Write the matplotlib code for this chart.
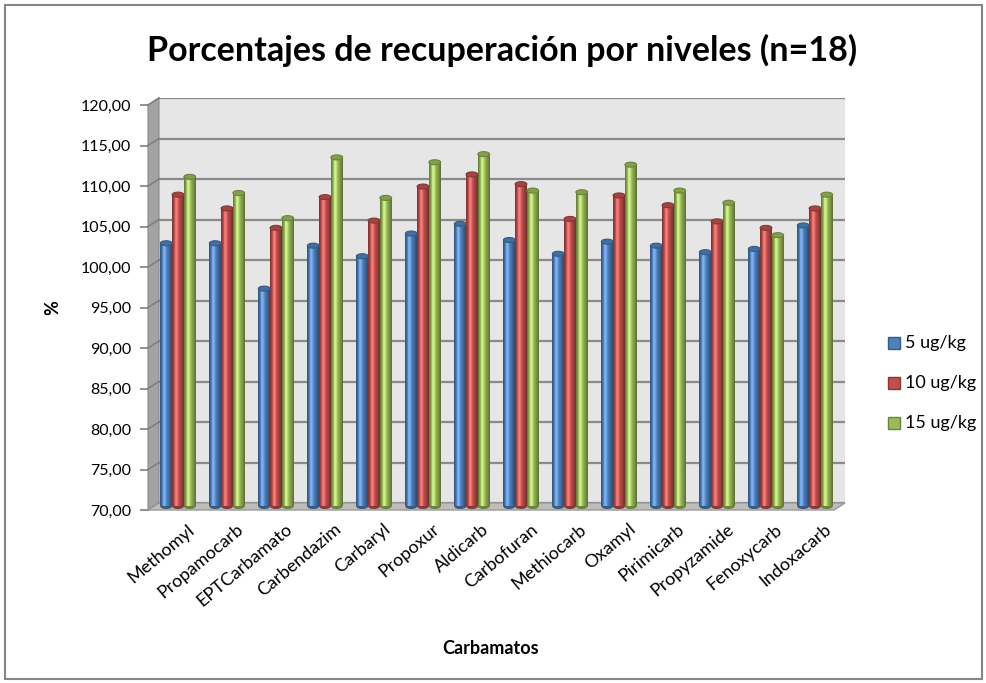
import numpy as np
import matplotlib
matplotlib.use("Agg")
import matplotlib.pyplot as plt
from matplotlib.patches import Polygon, Rectangle, Ellipse
from matplotlib.colors import to_rgb

plt.rcParams['font.family'] = ['Lato', 'DejaVu Sans']

carbamatos = ["Methomyl", "Propamocarb", "EPTCarbamato", "Carbendazim", "Carbaryl",
              "Propoxur", "Aldicarb", "Carbofuran", "Methiocarb", "Oxamyl",
              "Pirimicarb", "Propyzamide", "Fenoxycarb", "Indoxacarb"]
niveles = ["5 ug/kg", "10 ug/kg", "15 ug/kg"]
rec_5 = [102.5, 102.5, 96.9, 102.2, 100.9, 103.7, 104.9, 102.9, 101.2, 102.7, 102.2, 101.4, 101.8, 104.7]
rec_10 = [108.5, 106.8, 104.4, 108.2, 105.3, 109.5, 111.0, 109.8, 105.5, 108.4, 107.2, 105.2, 104.4, 106.8]
rec_15 = [110.7, 108.7, 105.6, 113.1, 108.1, 112.5, 113.5, 109.0, 108.8, 112.2, 109.0, 107.5, 103.5, 108.5]
colores = ["#4f81bd", "#c0504d", "#9bbb59"]
yticks = np.arange(70, 121, 5)

W, H = 987, 683
fig = plt.figure(figsize=(W / 100, H / 100), dpi=100)
fig.patch.set_facecolor("white")


def fx(px):
    return px / W


def fy(py):
    return 1 - py / H


def rect(left, top, width, height):
    return [fx(left), fy(top + height), width / W, height / H]


# marco exterior del grafico
fig.add_artist(Rectangle((fx(5), fy(679)), fx(977), 674 / H, transform=fig.transFigure,
                         fill=False, edgecolor="#868686", lw=1.5, zorder=10))

# pared del fondo con la cuadricula
dx, dy = 11, 7
back_l, back_t, pw, ph = 159, 98, 686, 405
ax_wall = fig.add_axes(rect(back_l, back_t, pw, ph))
ax_wall.set_facecolor("#e6e6e6")
ax_wall.set_xlim(-0.5, len(carbamatos) - 0.5)
ax_wall.set_ylim(70, 120)
for y in yticks:
    ax_wall.axhline(y, color="#8a8a8a", lw=1.6)
for s in ax_wall.spines.values():
    s.set_visible(False)
ax_wall.set_xticks([])
ax_wall.set_yticks([])
ax_wall.set_zorder(0)

# pared izquierda y suelo
front_l, front_b = back_l - dx, back_t + ph + dy
front_r = back_l + pw - dx
fig.add_artist(Polygon([(fx(front_l), fy(front_b)), (fx(front_l), fy(back_t + dy)),
                        (fx(back_l), fy(back_t)), (fx(back_l), fy(back_t + ph))],
                       closed=True, transform=fig.transFigure, facecolor="#a3a3a3",
                       edgecolor="#8a8a8a", lw=0.8, zorder=1))
for y in yticks:
    yb = back_t + ph - (y - 70) * ph / 50
    fig.add_artist(plt.Line2D([fx(front_l), fx(back_l)], [fy(yb + dy), fy(yb)],
                              transform=fig.transFigure, color="#7f7f7f", lw=1.2, zorder=1))
fig.add_artist(Polygon([(fx(front_l), fy(front_b)), (fx(front_r), fy(front_b)),
                        (fx(back_l + pw), fy(back_t + ph)), (fx(back_l), fy(back_t + ph))],
                       closed=True, transform=fig.transFigure, facecolor="#bdbdbd",
                       edgecolor="#9a9a9a", lw=1.0, zorder=1))

# barras cilindricas a media profundidad
ax_bar = fig.add_axes(rect(back_l - dx / 2, back_t + dy / 2, pw, ph))
ax_bar.patch.set_alpha(0)
ax_bar.axis("off")
ax_bar.set_zorder(2)

x = np.arange(len(carbamatos))
ancho = 0.24
cap_h = 5 / (ph / 50)
perfil = np.linspace(0, 1, 40)
brillo = np.interp(perfil, [0, 0.3, 0.45, 1], [0.62, 1.15, 1.1, 0.6])

for k, (serie, col) in enumerate(zip([rec_5, rec_10, rec_15], colores)):
    base = np.array(to_rgb(col))
    grad = np.clip(base[None, :] * brillo[:, None] + np.maximum(brillo - 1, 0)[:, None] * 1.0, 0, 1)
    oscuro = np.clip(base * 0.7, 0, 1)
    for i, v in enumerate(serie):
        xc = x[i] + (k - 1) * ancho
        x0, x1 = xc - ancho / 2, xc + ancho / 2
        ax_bar.add_patch(Ellipse((xc, 70), ancho, cap_h, facecolor=oscuro, edgecolor="none",
                                 clip_on=False, zorder=1))
        ax_bar.imshow(grad[None, :, :], extent=(x0, x1, 70, v), aspect="auto",
                      interpolation="bilinear", zorder=2, clip_on=False)
        ax_bar.add_patch(Ellipse((xc, v), ancho, cap_h, facecolor=np.clip(base * 0.85, 0, 1),
                                 edgecolor=oscuro, lw=0.8, zorder=3, clip_on=False))

ax_bar.set_xlim(-0.5, len(carbamatos) - 0.5)
ax_bar.set_ylim(70, 120)

# eje frontal con los rotulos
ax_front = fig.add_axes(rect(front_l, back_t + dy, pw, ph))
ax_front.patch.set_alpha(0)
ax_front.set_zorder(3)
ax_front.set_xlim(-0.5, len(carbamatos) - 0.5)
ax_front.set_ylim(70, 120)
for s in ax_front.spines.values():
    s.set_visible(False)
ax_front.set_yticks(yticks)
ax_front.set_yticklabels([f"{v:.2f}".replace(".", ",") for v in yticks])
ax_front.tick_params(axis="y", direction="out", length=6, width=1.2, color="#7f7f7f",
                     labelsize=11.5, pad=6)
ax_front.set_xticks(x + 0.3)
ax_front.set_xticklabels(carbamatos, rotation=40, ha="right", va="top",
                         rotation_mode="anchor", fontsize=13)
ax_front.tick_params(axis="x", length=0, pad=8)
ax_front.set_ylabel("%", fontsize=13, fontweight="bold", labelpad=14)
ax_front.set_xlabel("Carbamatos", fontsize=13, fontweight="bold", labelpad=22)

fig.text(fx(502), fy(50), "Porcentajes de recuperación por niveles (n=18)",
         ha="center", va="center", fontsize=24.5, fontweight="bold")

# leyenda
for k, (nom, col) in enumerate(zip(niveles, colores)):
    yc = 343 + k * 40
    fig.add_artist(Rectangle((fx(888), fy(yc + 6)), 12 / W, 12 / H, transform=fig.transFigure,
                             facecolor=col, edgecolor=np.clip(np.array(to_rgb(col)) * 0.7, 0, 1),
                             lw=1))
    fig.text(fx(905), fy(yc), nom, ha="left", va="center", fontsize=13)

fig.savefig("out.png", dpi=100, facecolor="white")
